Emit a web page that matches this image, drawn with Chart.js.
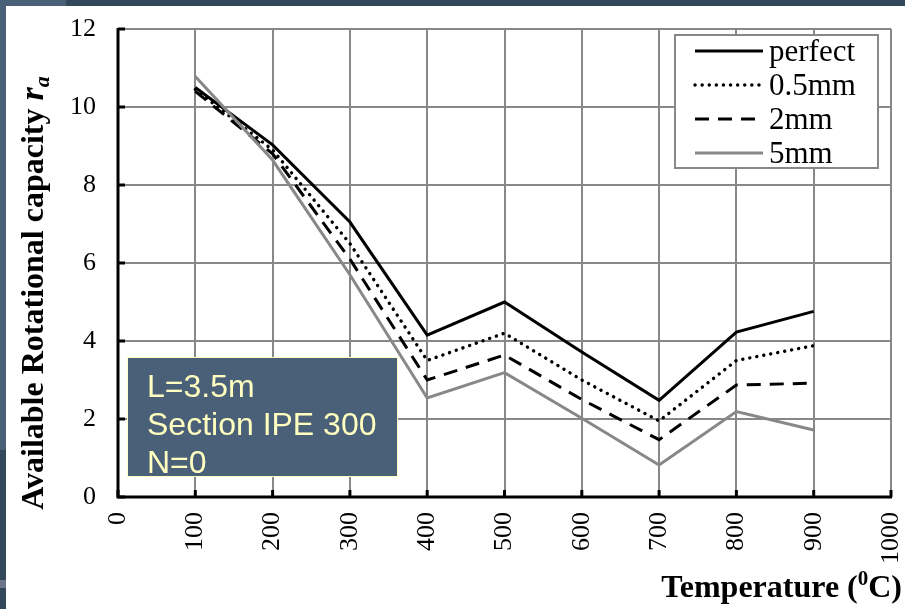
<!DOCTYPE html>
<html>
<head>
<meta charset="utf-8">
<script src="https://cdn.jsdelivr.net/npm/chart.js@4/dist/chart.umd.min.js"></script>
<style>
  html, body { margin: 0; padding: 0; background: #fff; }
  #wrap { width: 905px; height: 609px; position: relative; }
</style>
</head>
<body>
<div id="wrap"><canvas id="chart" width="905" height="609"></canvas></div>
<script>
// temperature (C)
const temps = [100, 200, 300, 400, 500, 600, 700, 800, 900];
const perfect = [10.5, 9.03, 7.05, 4.15, 5.0, 3.72, 2.48, 4.23, 4.76];
const mm05 = [10.45, 8.9, 6.5, 3.5, 4.2, 3.0, 1.95, 3.5, 3.88];
const mm2 = [10.4, 8.8, 6.1, 3.0, 3.64, 2.5, 1.47, 2.87, 2.92];
const mm5 = [10.78, 8.64, 5.7, 2.54, 3.19, 2.02, 0.82, 2.19, 1.72];
const seriesNames = ['perfect', '0.5mm', '2mm', '5mm'];
const xTicks = [0, 100, 200, 300, 400, 500, 600, 700, 800, 900, 1000];
const yTicks = [0, 2, 4, 6, 8, 10, 12];
const noteLines = ['L=3.5m', 'Section IPE 300', 'N=0'];

const pts = arr => temps.map((t, i) => ({x: t, y: arr[i]}));
const serif = "'Liberation Serif', 'Times New Roman', serif";

const styles = [
  {color: '#000', width: 3, dash: []},
  {color: '#000', width: 3.4, dash: [0.1, 7], cap: 'round'},
  {color: '#000', width: 3, dash: [14, 9]},
  {color: '#888', width: 3, dash: []}
];
const allData = [perfect, mm05, mm2, mm5];

const datasets = allData.map((d, i) => ({
  label: seriesNames[i],
  data: pts(d),
  borderColor: styles[i].color,
  borderWidth: styles[i].width,
  borderDash: styles[i].dash,
  borderCapStyle: styles[i].cap || 'butt',
  pointRadius: 0,
  tension: 0,
  fill: false
}));
// grey line drawn first so black lines sit on top
datasets.reverse();

const decor = {
  id: 'decor',
  beforeDraw(chart) {
    const c = chart.ctx;
    c.save();
    c.fillStyle = '#fff';
    c.fillRect(0, 0, 905, 609);
    // slide frame strips
    c.fillStyle = '#34485c';
    c.fillRect(0, 0, 905, 6);
    c.fillStyle = '#4a6078';
    c.fillRect(0, 0, 66, 6);
    c.fillRect(0, 0, 6, 450);
    c.fillStyle = '#34485c';
    c.fillRect(0, 450, 6, 159);
    c.fillStyle = '#6e7488';
    c.fillRect(0, 580, 6, 8);
    c.restore();
  },
  afterDatasetsDraw(chart) {
    const c = chart.ctx;
    const a = chart.chartArea;
    const xs = chart.scales.x, ys = chart.scales.y;
    c.save();
    // black axes
    c.strokeStyle = '#000';
    c.lineWidth = 3;
    c.beginPath();
    c.moveTo(a.left, a.top - 1);
    c.lineTo(a.left, a.bottom);
    c.lineTo(a.right + 1, a.bottom);
    c.stroke();
    // inward tick marks
    yTicks.forEach(v => {
      const y = ys.getPixelForValue(v);
      c.beginPath(); c.moveTo(a.left, y); c.lineTo(a.left + 7, y); c.stroke();
    });
    xTicks.forEach(v => {
      const x = xs.getPixelForValue(v);
      c.beginPath(); c.moveTo(x, a.bottom); c.lineTo(x, a.bottom - 7); c.stroke();
    });

    // legend box
    const lx = 675, ly = 35, lw = 203, lh = 133;
    c.fillStyle = '#fff';
    c.fillRect(lx, ly, lw, lh);
    c.strokeStyle = '#888';
    c.lineWidth = 2;
    c.strokeRect(lx, ly, lw, lh);
    c.font = '31px ' + serif;
    c.textBaseline = 'alphabetic';
    c.textAlign = 'left';
    seriesNames.forEach((name, i) => {
      const s = styles[i];
      const y = ly + 16 + i * 34;
      c.strokeStyle = s.color;
      c.lineWidth = s.width;
      c.setLineDash(s.dash);
      c.lineCap = s.cap || 'butt';
      c.beginPath(); c.moveTo(695, y); c.lineTo(763, y); c.stroke();
      c.setLineDash([]);
      c.lineCap = 'butt';
      c.fillStyle = '#000';
      c.fillText(name, 769, y + 10);
    });

    // note box
    c.fillStyle = '#4a5f78';
    c.fillRect(127, 357, 271, 120);
    c.strokeStyle = '#ffffc0';
    c.lineWidth = 1;
    c.strokeRect(127.5, 357.5, 270, 119);
    c.fillStyle = '#ffffc0';
    c.font = "32px 'Liberation Sans', Arial, sans-serif";
    noteLines.forEach((t, i) => c.fillText(t, 147, 397 + i * 38));

    // y axis title
    c.fillStyle = '#000';
    c.translate(43, 293);
    c.rotate(-Math.PI / 2);
    const boldF = 'bold 32px ' + serif;
    const part1 = 'Available Rotational capacity ';
    c.font = boldF;
    const w1 = c.measureText(part1).width;
    c.font = 'italic bold 34px ' + serif;
    const w2 = c.measureText('r').width;
    c.font = 'italic bold 22px ' + serif;
    const w3 = c.measureText('a').width;
    const x0 = -(w1 + w2 + w3) / 2;
    c.font = boldF;
    c.fillText(part1, x0, 0);
    c.font = 'italic bold 34px ' + serif;
    c.fillText('r', x0 + w1, 0);
    c.font = 'italic bold 22px ' + serif;
    c.fillText('a', x0 + w1 + w2, 6);
    c.setTransform(1, 0, 0, 1, 0, 0);

    // x axis title
    const tA = 'Temperature (', tB = '0', tC = 'C)';
    c.font = 'bold 32px ' + serif;
    const wa = c.measureText(tA).width, wc = c.measureText(tC).width;
    c.font = 'bold 21px ' + serif;
    const wb = c.measureText(tB).width;
    const xr = 902 - (wa + wb + wc);
    const by = 597;
    c.font = 'bold 32px ' + serif;
    c.fillText(tA, xr, by);
    c.font = 'bold 21px ' + serif;
    c.fillText(tB, xr + wa, by - 12);
    c.font = 'bold 32px ' + serif;
    c.fillText(tC, xr + wa + wb, by);
    c.restore();
  }
};

new Chart(document.getElementById('chart'), {
  type: 'line',
  data: { datasets: datasets },
  options: {
    responsive: false,
    animation: false,
    layout: { padding: { left: 0, right: 14, top: 29, bottom: 0 } },
    plugins: { legend: { display: false }, tooltip: { enabled: false } },
    scales: {
      x: {
        type: 'linear',
        min: 0, max: 1000,
        afterBuildTicks: s => { s.ticks = xTicks.map(v => ({value: v})); },
        afterFit: s => { s.height = 112; s.paddingLeft = 0; s.paddingRight = 0; },
        grid: { color: '#888', lineWidth: 2, drawTicks: false },
        border: { display: false },
        ticks: {
          minRotation: 90, maxRotation: 90,
          color: '#000', padding: 15,
          font: { family: serif, size: 26 },
          callback: v => String(v)
        }
      },
      y: {
        min: 0, max: 12,
        afterBuildTicks: s => { s.ticks = yTicks.map(v => ({value: v})); },
        afterFit: s => { s.width = 118; s.paddingTop = 0; s.paddingBottom = 0; },
        grid: { color: '#888', lineWidth: 2, drawTicks: false },
        border: { display: false },
        ticks: {
          color: '#000', padding: 22,
          font: { family: serif, size: 26 }
        }
      }
    }
  },
  plugins: [decor]
});
</script>
</body>
</html>
